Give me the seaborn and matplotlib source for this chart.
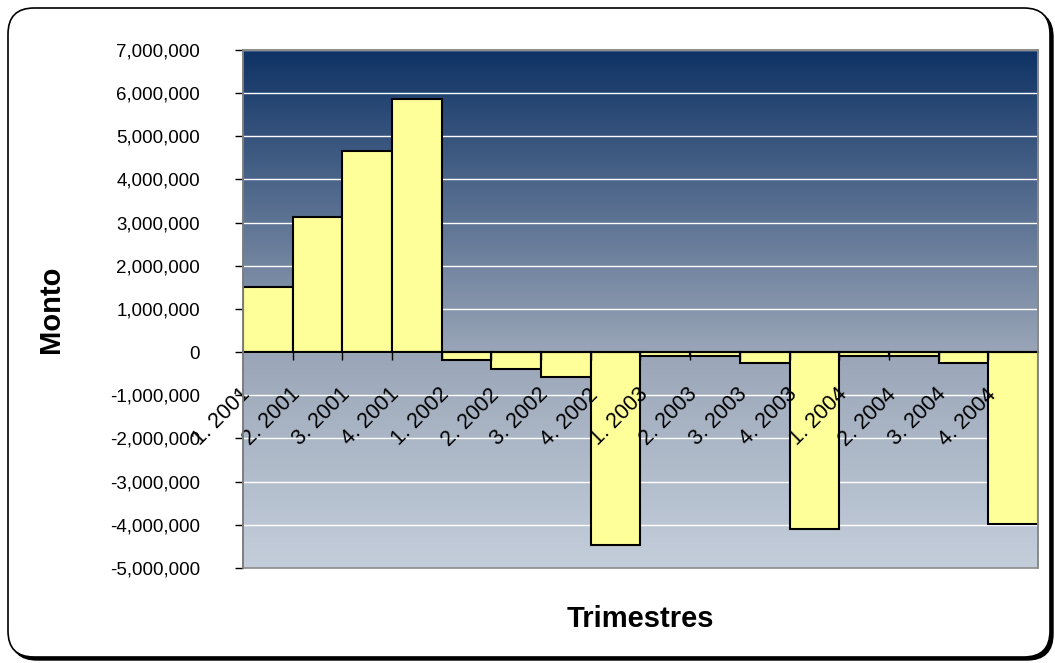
import numpy as np
import pandas as pd
import matplotlib
matplotlib.use("Agg")
import matplotlib.pyplot as plt
import matplotlib.transforms as mtransforms
from matplotlib.colors import LinearSegmentedColormap
from matplotlib.patches import FancyBboxPatch, Rectangle
from matplotlib.ticker import FuncFormatter
import seaborn as sns

trimestres = ["1. 2001", "2. 2001", "3. 2001", "4. 2001",
              "1. 2002", "2. 2002", "3. 2002", "4. 2002",
              "1. 2003", "2. 2003", "3. 2003", "4. 2003",
              "1. 2004", "2. 2004", "3. 2004", "4. 2004"]
montos = [1510000, 3140000, 4670000, 5870000,
          -185000, -390000, -570000, -4460000,
          -90000, -100000, -240000, -4100000,
          -90000, -100000, -240000, -3990000]
y_ticks = list(range(-5000000, 7000001, 1000000))

df = pd.DataFrame({"trimestre": trimestres, "monto": montos})

sns.set_style("white")
plt.rcParams["font.family"] = ["Liberation Sans", "DejaVu Sans"]
plt.rcParams["text.color"] = "black"
plt.rcParams["axes.labelcolor"] = "black"
plt.rcParams["xtick.color"] = "black"
plt.rcParams["ytick.color"] = "black"

fig = plt.figure(figsize=(10.55, 6.63), dpi=100)

# marco redondeado con sombra
px = mtransforms.IdentityTransform()
sombra = FancyBboxPatch((11, 3), 1042, 649, boxstyle="round,pad=0,rounding_size=26",
                        transform=px, facecolor="black", edgecolor="black", zorder=-2)
marco = FancyBboxPatch((8, 6), 1042, 649, boxstyle="round,pad=0,rounding_size=26",
                       transform=px, facecolor="white", edgecolor="black", lw=1.2, zorder=-1)
fig.add_artist(sombra)
fig.add_artist(marco)

ax = fig.add_axes([0.2303, 0.1433, 0.7536, 0.7813])
ax.set_facecolor("none")

sns.barplot(data=df, x="trimestre", y="monto", color="#FFFF99", saturation=1,
            edgecolor="black", linewidth=1.5, width=1.0, ax=ax, zorder=2)

# fondo degradado
fondo = LinearSegmentedColormap.from_list(
    "fondo", [(0, "#C4CEDB"), (0.42, "#99A5B7"), (1, "#0E3265")])
ax.imshow(np.linspace(0, 1, 256).reshape(-1, 1), cmap=fondo, origin="lower",
          extent=[0, 1, 0, 1], transform=ax.transAxes, aspect="auto", zorder=0)

ax.set_xlim(-0.5, len(trimestres) - 0.5)
ax.set_ylim(y_ticks[0], y_ticks[-1])
ax.set_yticks(y_ticks)
ax.yaxis.set_major_formatter(FuncFormatter(lambda v, p: f"{v:,.0f}"))

# lineas de division bajo las barras, etiquetas encima
ax.grid(False)
ax.set_axisbelow(False)
for t in y_ticks:
    ax.axhline(t, color="white", linewidth=1, zorder=1)

# eje de categorias en cero
ax.spines["bottom"].set_position(("data", 0))
ax.spines["bottom"].set_color("black")
ax.spines["bottom"].set_linewidth(1.5)
ax.spines["left"].set_color("#333333")
ax.spines["left"].set_linewidth(1.2)
for s in ["top", "right"]:
    ax.spines[s].set_color("#8A8A8A")
    ax.spines[s].set_linewidth(1.2)
ax.add_patch(Rectangle((0, 0), 1, 1, transform=ax.transAxes, fill=False,
                       edgecolor="#8A8A8A", lw=1.2, zorder=3, clip_on=False))

ax.tick_params(axis="y", left=True, length=6, width=1, color="black",
               direction="out", pad=25, labelsize=13.5)
ax.set_xticks(np.arange(0.5, len(trimestres) - 1, 1), minor=True)
ax.tick_params(axis="x", which="minor", bottom=True, length=6, width=1,
               color="black", direction="out")
ax.tick_params(axis="x", which="major", bottom=True, length=0, pad=0,
               labelsize=15.5, labelrotation=45)

offset = mtransforms.ScaledTranslation(-13 / 100, -32 / 100, fig.dpi_scale_trans)
for lbl in ax.get_xticklabels():
    lbl.set_ha("right")
    lbl.set_va("top")
    lbl.set_transform(lbl.get_transform() + offset)

ax.set_xlabel("Trimestres", fontsize=21, fontweight="bold")
ax.xaxis.set_label_coords(0.5, -0.0714)
ax.set_ylabel("Monto", fontsize=21, fontweight="bold")
ax.yaxis.set_label_coords(-0.224, 0.5)

fig.savefig("out.png", dpi=100)
